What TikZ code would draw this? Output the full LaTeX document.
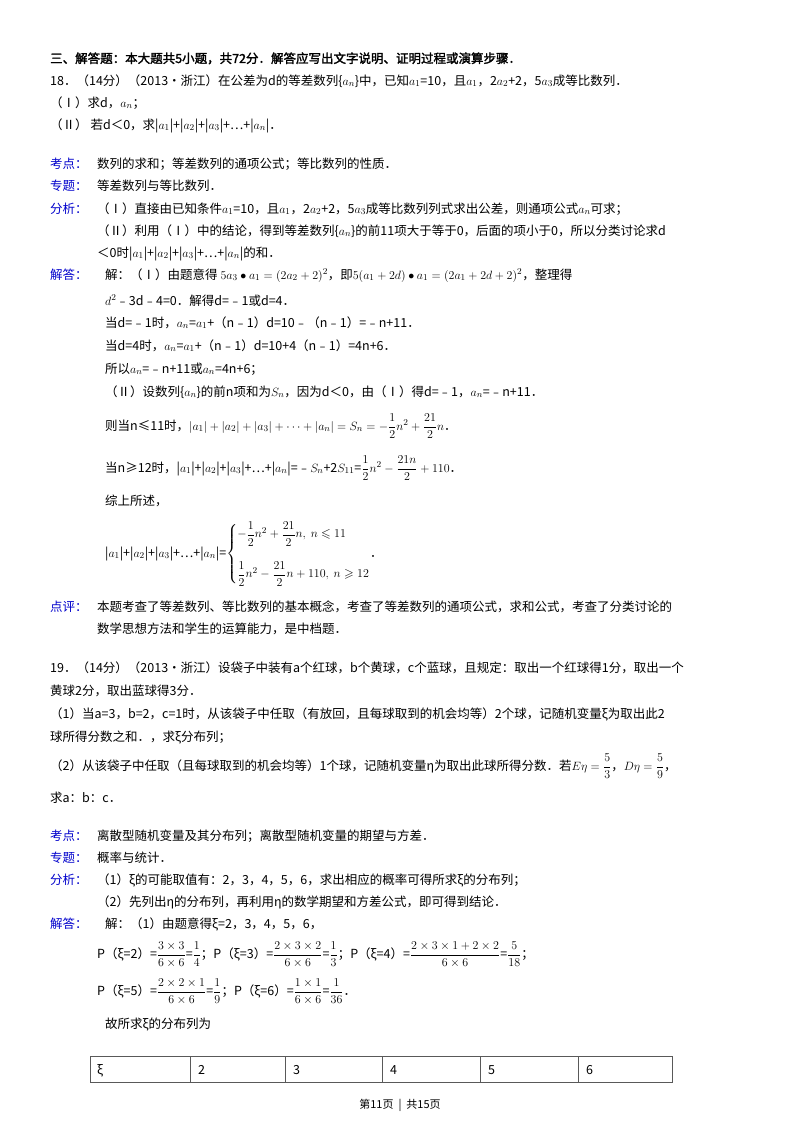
\documentclass[tikz,border=0pt]{standalone}
\usepackage{amsmath,amssymb}
\usepackage{fontspec}
\setmainfont{Noto Sans CJK SC}
\newfontfamily\cjkb[FakeBold=2]{Noto Sans CJK SC}
\begin{document}
\begin{tikzpicture}[x=1pt,y=-1pt,
  txt/.style={anchor=base west,inner sep=0pt,font=\fontsize{12.5pt}{14pt}\selectfont},
  lab/.style={txt,text=blue!80!black}]
\useasboundingbox[fill=white] (0,0) rectangle (800,1132);
\newcommand\Tx[3]{\node[txt] at (#1,#2) {#3};}
\newcommand\Lb[2]{\node[lab] at (50,#1) {#2};}
\Tx{50}{63}{\cjkb 三、解答题：本大题共5小题，共72分．解答应写出文字说明、证明过程或演算步骤．}
\Tx{50}{85}{18．（14分）（2013•浙江）在公差为d的等差数列\{$a_n$\}中，已知$a_1$=10，且$a_1$，2$a_2$+2，5$a_3$成等比数列．}
\Tx{50}{107}{（Ⅰ）求d，$a_n$；}
\Tx{50}{129}{（Ⅱ） 若d＜0，求|$a_1$|+|$a_2$|+|$a_3$|+…+|$a_n$|．}
\Lb{168}{考点：}\Tx{97}{168}{数列的求和；等差数列的通项公式；等比数列的性质．}
\Lb{190}{专题：}\Tx{97}{190}{等差数列与等比数列．}
\Lb{213}{分析：}\Tx{97}{213}{（Ⅰ）直接由已知条件$a_1$=10，且$a_1$，2$a_2$+2，5$a_3$成等比数列列式求出公差，则通项公式$a_n$可求；}
\Tx{97}{235}{（Ⅱ）利用（Ⅰ）中的结论，得到等差数列\{$a_n$\}的前11项大于等于0，后面的项小于0，所以分类讨论求d}
\Tx{97}{257}{＜0时|$a_1$|+|$a_2$|+|$a_3$|+…+|$a_n$|的和．}
\Lb{279}{解答：}\Tx{105}{279}{解：（Ⅰ）由题意得 $5a_3\bullet a_1=(2a_2+2)^2$，即$5(a_1+2d)\bullet a_1=(2a_1+2d+2)^2$，整理得}
\Tx{105}{305}{$d^2$﹣3d﹣4=0．解得d=﹣1或d=4．}
\Tx{105}{327}{当d=﹣1时，$a_n$=$a_1$+（n﹣1）d=10﹣（n﹣1）=﹣n+11．}
\Tx{105}{350}{当d=4时，$a_n$=$a_1$+（n﹣1）d=10+4（n﹣1）=4n+6．}
\Tx{105}{373}{所以$a_n$=﹣n+11或$a_n$=4n+6；}
\Tx{105}{396}{（Ⅱ）设数列\{$a_n$\}的前n项和为$S_n$，因为d＜0，由（Ⅰ）得d=﹣1，$a_n$=﹣n+11．}
\Tx{105}{430}{则当n≤11时，$|a_1|+|a_2|+|a_3|+\cdots+|a_n|=S_n=-\dfrac12n^2+\dfrac{21}{2}n$．}
\Tx{105}{472}{当n≥12时，|$a_1$|+|$a_2$|+|$a_3$|+…+|$a_n$|=﹣$S_n$+2$S_{11}$=$\dfrac12n^2-\dfrac{21n}{2}+110$．}
\Tx{105}{505}{综上所述，}
\Tx{105}{557}{|$a_1$|+|$a_2$|+|$a_3$|+…+|$a_n$|=$\left\{\begin{array}{@{}l@{}}-\dfrac12n^2+\dfrac{21}{2}n,\ n\leqslant 11\\[20pt] \dfrac12n^2-\dfrac{21}{2}n+110,\ n\geqslant 12\end{array}\right.$．}
\Lb{611}{点评：}\Tx{97}{611}{本题考查了等差数列、等比数列的基本概念，考查了等差数列的通项公式，求和公式，考查了分类讨论的}
\Tx{97}{633}{数学思想方法和学生的运算能力，是中档题．}
\Tx{50}{672}{19．（14分）（2013•浙江）设袋子中装有a个红球，b个黄球，c个蓝球，且规定：取出一个红球得1分，取出一个}
\Tx{50}{695}{黄球2分，取出蓝球得3分．}
\Tx{50}{718}{（1）当a=3，b=2，c=1时，从该袋子中任取（有放回，且每球取到的机会均等）2个球，记随机变量ξ为取出此2}
\Tx{50}{741}{球所得分数之和．，求ξ分布列；}
\Tx{50}{770}{（2）从该袋子中任取（且每球取到的机会均等）1个球，记随机变量η为取出此球所得分数．若$E\eta=\dfrac53$，$D\eta=\dfrac59$，}
\Tx{50}{802}{求a：b：c．}
\Lb{840}{考点：}\Tx{97}{840}{离散型随机变量及其分布列；离散型随机变量的期望与方差．}
\Lb{862}{专题：}\Tx{97}{862}{概率与统计．}
\Lb{884}{分析：}\Tx{97}{884}{（1）ξ的可能取值有：2，3，4，5，6，求出相应的概率可得所求ξ的分布列；}
\Tx{97}{906}{（2）先列出η的分布列，再利用η的数学期望和方差公式，即可得到结论．}
\Lb{928}{解答：}\Tx{105}{928}{解：（1）由题意得ξ=2，3，4，5，6，}
\Tx{97}{958}{P（ξ=2）=$\dfrac{3\times3}{6\times6}$=$\dfrac14$；P（ξ=3）=$\dfrac{2\times3\times2}{6\times6}$=$\dfrac13$；P（ξ=4）=$\dfrac{2\times3\times1+2\times2}{6\times6}$=$\dfrac{5}{18}$；}
\Tx{97}{995}{P（ξ=5）=$\dfrac{2\times2\times1}{6\times6}$=$\dfrac19$；P（ξ=6）=$\dfrac{1\times1}{6\times6}$=$\dfrac1{36}$．}
\Tx{105}{1028}{故所求ξ的分布列为}
\draw[gray!70!black,line width=0.6] (90,1056) rectangle (672,1082);
\foreach \x in {190,285,382,480,578} \draw[gray!70!black,line width=0.6] (\x,1056) -- (\x,1082);
\Tx{97}{1074}{ξ}\Tx{198}{1074}{2}\Tx{293}{1074}{3}\Tx{390}{1074}{4}\Tx{488}{1074}{5}\Tx{586}{1074}{6}
\node[txt,anchor=base,font=\fontsize{11pt}{13pt}\selectfont] (ft) at (400,1108) {第11页 ~|~ 共15页};
\end{tikzpicture}
\end{document}
